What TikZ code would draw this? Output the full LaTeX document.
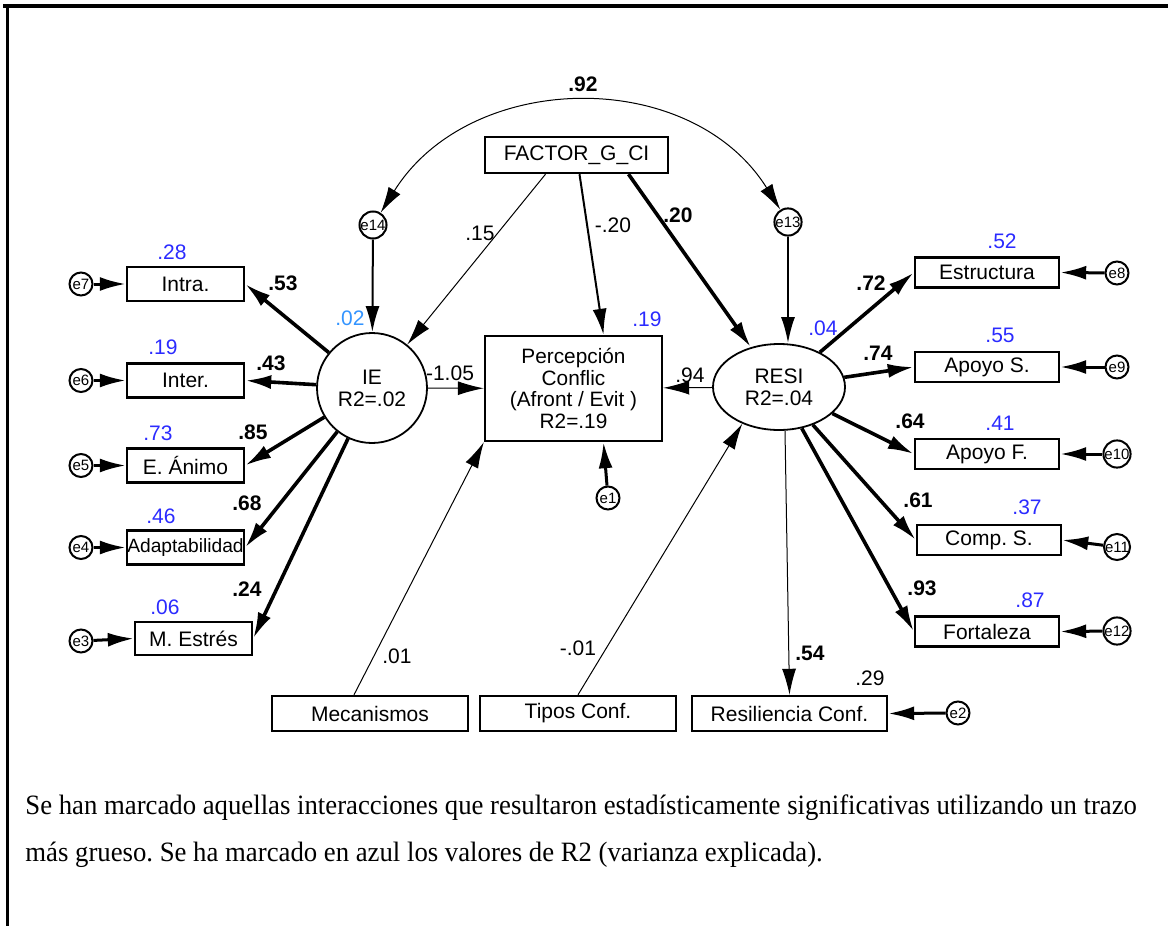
\documentclass[tikz,border=0pt]{standalone}
\usepackage{fontspec}
\setmainfont{Liberation Serif}
\setsansfont{Liberation Sans}
\usetikzlibrary{arrows.meta,shapes.geometric,calc}
\definecolor{rblue}{rgb}{0.17,0.17,1.0}
\definecolor{ieblue}{rgb}{0.2,0.58,1.0}
\frenchspacing

\begin{document}
\begin{tikzpicture}[x=0.5pt,y=0.5pt,>={Latex[length=13pt,width=7pt]},
  every node/.style={font=\sffamily\fontsize{10.5}{11}\selectfont},
  obs/.style={draw,line width=1.2pt,inner sep=0pt,minimum height=17pt,minimum width=58.5pt},
  rbox/.style={obs,minimum width=72pt,minimum height=15pt},
  bbox/.style={obs,minimum width=98pt,minimum height=17.5pt},
  lat/.style={draw,line width=0.9pt,inner sep=0pt,align=center},
  err/.style={circle,draw,line width=1pt,minimum size=11.5pt,inner sep=0pt,font=\sffamily\fontsize{7.5}{7.5}\selectfont},
  sigpath/.style={->,line width=1.8pt},
  errpath/.style={->,line width=1.5pt},
  midpath/.style={->,line width=1pt},
  nspath/.style={->,line width=0.5pt},
  sig/.style={font=\sffamily\bfseries\fontsize{10.5}{11}\selectfont},
  rsq/.style={text=rblue},
  note/.style={anchor=west,inner sep=0pt,font=\rmfamily\fontsize{14}{16}\selectfont}]
\useasboundingbox (0,0) rectangle (1168,-926);
% frame
\draw[line width=1.8pt] (3,-6) -- (1168,-6);
\draw[line width=1.5pt] (7,-6) -- (7,-926);

% central part
\node[obs,minimum width=91.5pt,minimum height=18pt] (fac) at (576.5,-155) {FACTOR\_G\_CI};
\node[obs,minimum width=88.5pt,minimum height=52.5pt,align=center,
  font=\sffamily\fontsize{10.4}{10.75}\selectfont] (perc) at (573.5,-388.5)
  {Percepción\\Conflic\\(Afront / Evit )\\R2=.19};
\node[lat,circle,minimum size=55pt] (ie) at (372,-388) {IE\\R2=.02};
\node[lat,ellipse,minimum width=66pt,minimum height=43pt] (resi) at (779,-387) {RESI\\R2=.04};

% indicators of IE
\node[obs] (intra) at (185.5,-284) {Intra.};
\node[obs] (inter) at (185.5,-380.5) {Inter.};
\node[obs] (animo) at (185.5,-465.5) {E. Ánimo};
\node[obs,font=\sffamily\fontsize{9.6}{10}\selectfont] (adapt) at (185.5,-547.5) {Adaptabilidad};
\node[obs,minimum height=16.5pt] (estres) at (193.5,-638.5) {M. Estrés};

% indicators of RESI
\node[rbox] (estr) at (987,-272.5) {Estructura};
\node[rbox] (apoyoS) at (987,-367) {Apoyo S.};
\node[rbox] (apoyoF) at (987,-454) {Apoyo F.};
\node[rbox] (comp) at (989,-540) {Comp. S.};
\node[rbox] (fort) at (987,-631.5) {Fortaleza};

% bottom row
\node[bbox] (mec) at (370,-713.5) {Mecanismos};
\node[bbox] (tipos) at (578,-713.5) {Tipos Conf.};
\node[bbox,minimum width=97.5pt] (resil) at (789.5,-713.5) {Resiliencia Conf.};

% error terms
\node[err] (e7) at (81,-284) {e7};
\node[err] (e6) at (81,-380.5) {e6};
\node[err] (e5) at (81,-465.5) {e5};
\node[err] (e4) at (81,-547.5) {e4};
\node[err] (e3) at (81,-641) {e3};
\node[err] (e14) at (373,-225) {e14};
\node[err] (e13) at (788,-222) {e13};
\node[err] (e1) at (608,-498) {e1};
\node[err] (e2) at (958,-713) {e2};
\node[err] (e8) at (1117,-273) {e8};
\node[err] (e9) at (1117,-367) {e9};
\node[err] (e10) at (1117,-454) {e10};
\node[err] (e11) at (1117,-547) {e11};
\node[err] (e12) at (1117,-631) {e12};

% covariance
\draw[<->,line width=0.5pt] (e14) to[out=58,in=122,looseness=1.08] (e13);

% structural paths
\draw[nspath] ([xshift=-15.5pt]fac.south) -- (ie);
\draw[midpath] ([xshift=1.5pt]fac.south) -- ([xshift=15pt]perc.north);
\draw[sigpath] ([xshift=26pt]fac.south) -- (resi);
\draw[nspath] (ie) -- (perc);
\draw[nspath] (resi) -- (perc);
\draw[nspath] ([xshift=-8pt]mec.north) -- (perc.south west);
\draw[nspath] (tipos.north) -- (resi.225);
\draw[nspath] ([xshift=3pt]resi.south) -- (resil.north);
\draw[midpath] (e14) -- (ie);
\draw[midpath] (e13) -- (e13 |- resi.north);
\draw[errpath] (e1) -- ([xshift=15pt]perc.south);
\draw[errpath] (e2) -- (resil.east);

% loadings
\foreach \ind in {intra,inter,animo,adapt,estres}
  \draw[sigpath] (ie) -- (\ind.east);
\foreach \ind in {estr,apoyoS,apoyoF,comp,fort}
  \draw[sigpath] (resi) -- (\ind.west);
\foreach \e/\ind in {e7/intra,e6/inter,e5/animo,e4/adapt,e3/estres}
  \draw[errpath] (\e) -- (\ind.west);
\foreach \e/\ind in {e8/estr,e9/apoyoS,e10/apoyoF,e11/comp,e12/fort}
  \draw[errpath] (\e) -- (\ind.east);

% coefficients
\node[sig] (c92) at (583,-84) {.92};
\node (c15) at (480,-233) {.15};
\node (c20a) at (613,-225) {-.20};
\node[sig] (c20b) at (678,-215) {.20};
\node (c105) at (450,-373) {-1.05};
\node (c94) at (690,-375) {.94};
\node (c01a) at (397,-656) {.01};
\node (c01b) at (578,-648) {-.01};
\node[sig] (c54) at (810,-653) {.54};
\node (c29) at (870,-678) {.29};
\node[sig] (c53) at (283,-283) {.53};
\node[sig] (c43) at (271,-363) {.43};
\node[sig] (c85) at (253,-432) {.85};
\node[sig] (c68) at (247,-503) {.68};
\node[sig] (c24) at (247,-589) {.24};
\node[sig] (c72) at (871,-283) {.72};
\node[sig] (c74) at (878,-353) {.74};
\node[sig] (c64) at (910,-421) {.64};
\node[sig] (c61) at (918,-500) {.61};
\node[sig] (c93) at (922,-588) {.93};

% explained variance
\node[rsq] (r28) at (172,-252) {.28};
\node[rsq] (r19a) at (163,-347) {.19};
\node[rsq] (r73) at (158,-433) {.73};
\node[rsq] (r46) at (161,-516) {.46};
\node[rsq] (r06) at (165,-607) {.06};
\node[text=ieblue] (r02) at (350,-318) {.02};
\node[rsq] (r19b) at (647,-319) {.19};
\node[rsq] (r04) at (823,-328) {.04};
\node[rsq] (r52) at (1002,-241) {.52};
\node[rsq] (r55) at (1000,-335) {.55};
\node[rsq] (r41) at (1000,-423) {.41};
\node[rsq] (r37) at (1027,-507) {.37};
\node[rsq] (r87) at (1030,-600) {.87};

% note
\node[note] (note1) at (25,-808)
  {\scalebox{0.955}[1]{Se han marcado aquellas interacciones que resultaron estadísticamente significativas utilizando un trazo}};
\node[note] (note2) at (25,-855)
  {\scalebox{0.955}[1]{más grueso. Se ha marcado en azul los valores de R2 (varianza explicada).}};
\end{tikzpicture}
\end{document}
